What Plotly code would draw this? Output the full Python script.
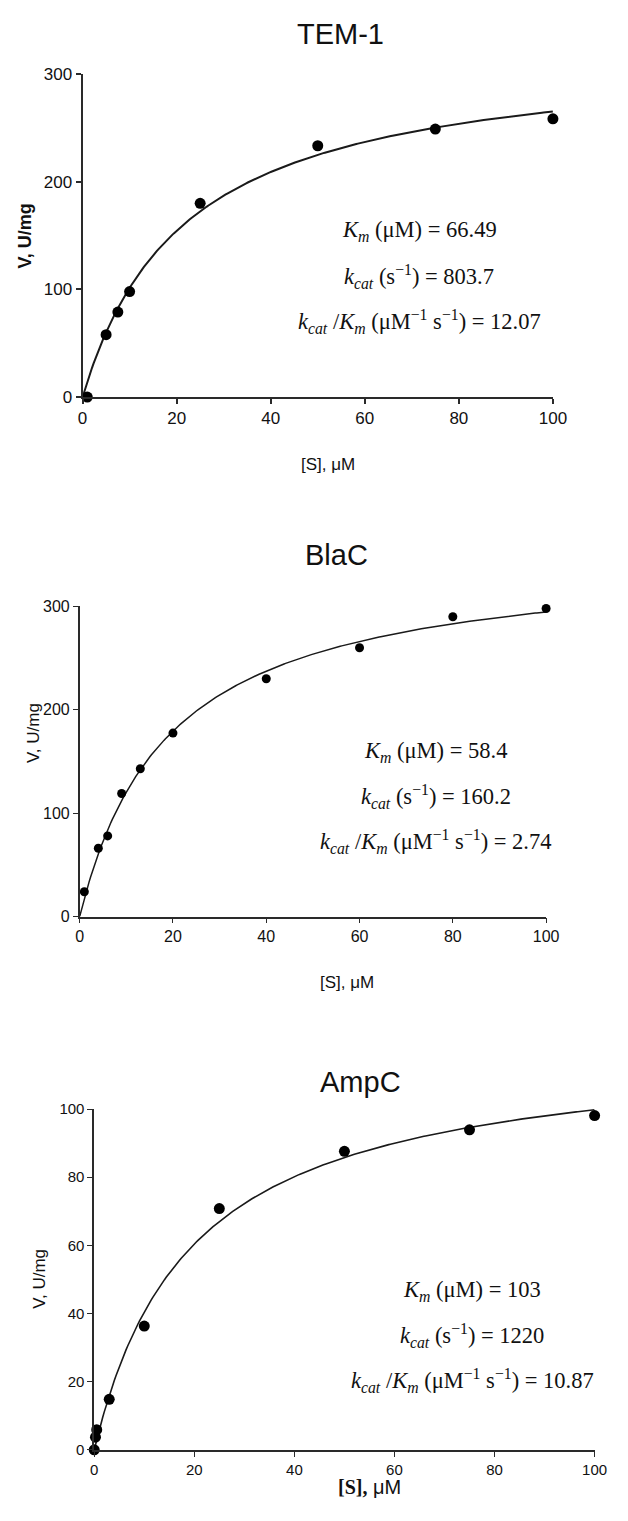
import numpy as np
import plotly.graph_objects as go

# ---- measured substrate concentrations [S] (uM) and initial rates V (U/mg)
tem1_s = [1, 5, 7.5, 10, 25, 50, 75, 100]
tem1_v = [0, 58, 79, 98, 180, 233.5, 249, 258.5]

blac_s = [1, 4, 6, 9, 13, 20, 40, 60, 80, 100]
blac_v = [24, 66, 78, 119, 143, 177.5, 230, 260, 290, 298]

ampc_s = [0, 0.25, 0.5, 3, 10, 25, 50, 75, 100]
ampc_v = [0, 3.7, 5.9, 14.8, 36.3, 70.8, 87.6, 93.9, 98.1]

# ---- panel titles and reported kinetic constants
panel_names = ["TEM-1", "BlaC", "AmpC"]
km_text = ["66.49", "58.4", "103"]
kcat_text = ["803.7", "160.2", "1220"]
eff_text = ["12.07", "2.74", "10.87"]

# ---- axis ticks
x_ticks = [0, 20, 40, 60, 80, 100]
y_ticks = [[0, 100, 200, 300], [0, 100, 200, 300], [0, 20, 40, 60, 80, 100]]

W, H = 628, 1521


def fit_mm(s, v):
    """Least-squares Michaelis-Menten fit: V = Vmax*S/(Km+S)."""
    s = np.asarray(s, float)
    v = np.asarray(v, float)
    best = None
    for km in np.arange(0.5, 300, 0.05):
        f = s / (km + s)
        vmax = (f * v).sum() / (f * f).sum()
        sse = ((v - vmax * f) ** 2).sum()
        if best is None or sse < best[0]:
            best = (sse, km, vmax)
    return best[1], best[2]


def px_x(x):
    return x / W


def px_y(y):
    return 1 - y / H


# plot-area boxes in pixels: left, right, top, bottom
boxes = [(80, 565, 66, 393), (77, 558, 605, 919), (92, 608, 1114, 1459)]
styles = [
    dict(lw=2.0, ms=11, tick=17, ytitle_bold=True),
    dict(lw=1.5, ms=9, tick=16, ytitle_bold=False),
    dict(lw=1.6, ms=11, tick=15, ytitle_bold=False),
]
series = [(tem1_s, tem1_v), (blac_s, blac_v), (ampc_s, ampc_v)]
title_pos = [(346, 25), (342, 553), (367, 1087)]
ytitle_pos = [(21, 230), (30, 733), (36, 1286)]
xtitle_pos = [(333, 461), (353, 986)]
note_pos = [(427, 225), (444, 752), (482, 1298)]

SANS = "Liberation Sans, Arial, sans-serif"
SERIF = "Liberation Serif, Times New Roman, serif"
INK = "#111"
AXIS = "#2a2a2a"

fig = go.Figure()
layout = dict(
    width=W, height=H, autosize=False,
    margin=dict(l=0, r=0, t=0, b=0),
    paper_bgcolor="white", plot_bgcolor="white",
    showlegend=False,
)
annotations = []

for i, ((s, v), box, st) in enumerate(zip(series, boxes, styles)):
    n = "" if i == 0 else str(i + 1)
    xa, ya = "x" + n, "y" + n
    left, right, top, bottom = box

    km, vmax = fit_mm(s, v)
    s_fit = np.linspace(0, 100, 300)
    v_fit = vmax * s_fit / (km + s_fit)

    fig.add_trace(go.Scatter(
        x=s_fit, y=v_fit, mode="lines", xaxis=xa, yaxis=ya,
        line=dict(color="#1a1a1a", width=st["lw"]), hoverinfo="skip",
    ))
    fig.add_trace(go.Scatter(
        x=s, y=v, mode="markers", xaxis=xa, yaxis=ya, cliponaxis=False,
        marker=dict(color="black", size=st["ms"], line=dict(width=0)),
    ))

    common = dict(
        showline=True, linecolor=AXIS, linewidth=st["lw"],
        ticks="outside", ticklen=5, tickwidth=st["lw"] * 0.8, tickcolor=AXIS,
        showgrid=False, zeroline=False,
        tickfont=dict(family=SANS, size=st["tick"], color=INK),
    )
    layout["xaxis" + n] = dict(
        domain=[px_x(left), px_x(right)], anchor=ya,
        range=[0, 100], tickvals=x_ticks, **common,
    )
    yt = y_ticks[i]
    layout["yaxis" + n] = dict(
        domain=[px_y(bottom), px_y(top)], anchor=xa,
        range=[yt[0], yt[-1]], tickvals=yt, **common,
    )

    # panel title
    tx, ty = title_pos[i]
    annotations.append(dict(
        text=panel_names[i], x=px_x(tx), y=px_y(ty), xref="paper", yref="paper",
        showarrow=False, xanchor="center", yanchor="middle",
        font=dict(family=SANS, size=29, color=INK),
    ))

    # y-axis title
    yx, yy = ytitle_pos[i]
    ytxt = "<b>V, U/mg</b>" if st["ytitle_bold"] else "V, U/mg"
    annotations.append(dict(
        text=ytxt, x=px_x(yx), y=px_y(yy), xref="paper", yref="paper",
        showarrow=False, xanchor="center", yanchor="middle", textangle=-90,
        font=dict(family=SANS, size=18 if i == 0 else 17, color=INK),
    ))

    # kinetic constants
    nx, ny = note_pos[i]
    lines = [
        f"<i>K<sub>m</sub></i> (μM) = {km_text[i]}",
        f"<i>k<sub>cat</sub></i> (s<sup>−1</sup>) = {kcat_text[i]}",
        f"<i>k<sub>cat</sub></i> /<i>K<sub>m</sub></i> (μM<sup>−1</sup> s<sup>−1</sup>) = {eff_text[i]}",
    ]
    for j, line in enumerate(lines):
        annotations.append(dict(
            text=line, x=px_x(nx), y=px_y(ny + 45.5 * j), xref="paper", yref="paper",
            showarrow=False, xanchor="center", yanchor="middle",
            font=dict(family=SERIF, size=22.5, color=INK),
        ))

# x-axis titles
for k, (xx, xy) in enumerate(xtitle_pos):
    annotations.append(dict(
        text="[S], μM", x=px_x(xx), y=px_y(xy), xref="paper", yref="paper",
        showarrow=False, xanchor="center", yanchor="middle",
        font=dict(family=SANS, size=17, color=INK),
    ))
annotations.append(dict(
    text="<span style='font-family:Liberation Serif;font-weight:bold'>[S],</span>"
         "<span style='font-weight:normal'> μM</span>",
    x=px_x(376), y=px_y(1497), xref="paper", yref="paper",
    showarrow=False, xanchor="center", yanchor="middle",
    font=dict(family=SANS, size=20, color=INK),
))

layout["annotations"] = annotations
fig.update_layout(**layout)
fig.write_html("out.html")
